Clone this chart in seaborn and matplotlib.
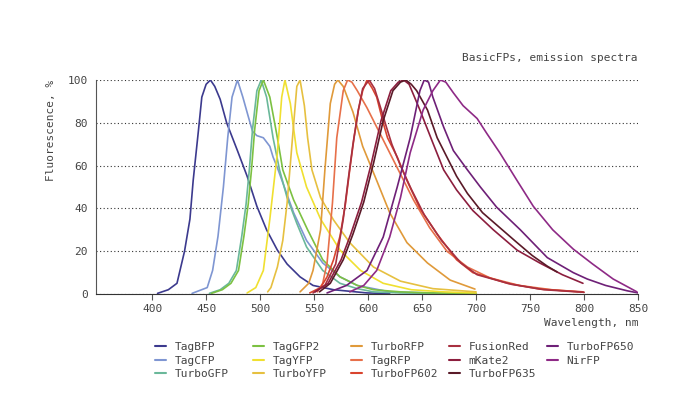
import numpy as np
import pandas as pd
import matplotlib
matplotlib.use("Agg")
import matplotlib.pyplot as plt
from matplotlib.lines import Line2D
import seaborn as sns

# emission spectra (wavelength nm, fluorescence %)
tagbfp_nm = [405, 415, 423, 430, 435, 438, 443, 446, 450, 454, 458, 463, 469, 479, 488, 497, 506, 516, 525, 537, 549, 568, 599, 620]
tagbfp_val = [0.3, 2, 5, 20, 35, 53, 77, 92, 98, 100, 97, 91, 80, 67, 55, 41, 30, 20.5, 14, 8, 4, 2, 0.5, 0.2]

tagcfp_nm = [437, 451, 456, 461, 466, 470, 474, 479, 484, 489, 493, 497, 503, 509, 512, 516, 521, 531, 543, 558, 574, 590, 620, 660, 700]
tagcfp_val = [0.3, 3, 11, 27, 50, 73, 92, 100, 92, 83, 76, 74, 73, 69, 64, 59, 52, 38, 25, 14.5, 8, 4, 1, 0.4, 0.2]

turbogfp_nm = [453, 463, 471, 478, 483, 487, 490, 493, 497, 501, 506, 512, 518, 525, 534, 543, 558, 574, 590, 605, 630, 660, 700]
turbogfp_val = [0.3, 2, 5, 11, 27, 42, 58, 77, 95, 100, 92, 73, 58, 45, 33, 22, 11, 5, 2.5, 1, 0.5, 0.3, 0.2]

taggfp2_nm = [455, 465, 473, 480, 485, 489, 492, 495, 499, 503, 509, 516, 521, 531, 544, 558, 574, 590, 605, 630, 660, 700]
taggfp2_val = [0.3, 2, 5, 11, 27, 42, 58, 77, 95, 100, 92, 73, 58, 44, 30, 16, 8, 4, 2, 1, 0.5, 0.2]

tagyfp_nm = [488, 496, 503, 509, 516, 520, 523, 528, 534, 543, 556, 574, 593, 614, 640, 670, 700]
tagyfp_val = [0.5, 3, 11, 35, 66, 92, 100, 89, 66, 50, 35, 20.5, 11, 5, 2, 1, 0.5]

turboyfp_nm = [507, 510, 516, 521, 525, 530, 534, 537, 541, 544, 548, 556, 568, 583, 605, 630, 660, 700]
turboyfp_val = [1, 3, 12.6, 25, 42.5, 73, 97, 100, 88, 73, 58, 45, 34.6, 24, 12.6, 6, 2.5, 1]

turborfp_nm = [537, 545, 549, 556, 560, 565, 569, 572, 577, 586, 595, 608, 620, 636, 655, 676, 699]
turborfp_val = [1, 5, 11, 30, 58, 89, 98, 100, 97, 85, 69, 53, 38, 24, 14.5, 6.5, 2.3]

tagrfp_nm = [553, 558, 562, 567, 571, 577, 581, 585, 590, 599, 614, 630, 642, 657, 673, 692, 713, 740, 770, 800]
tagrfp_val = [1, 5, 14.5, 42.5, 73, 95, 100, 99, 95, 87, 72, 56, 44, 31, 20, 12.6, 7.5, 4, 2, 0.8]

turbofp602_nm = [546, 556, 562, 568, 574, 579, 583, 587, 591, 595, 599, 604, 608, 614, 618, 627, 636, 648, 664, 682, 697, 729, 759, 799]
turbofp602_val = [0.5, 3, 8, 16, 27, 42, 58, 73, 86, 95, 100, 96, 92, 80, 73, 64, 53, 40, 28, 16, 10, 5, 2.3, 1]

fusionred_nm = [549, 560, 570, 577, 582, 586, 591, 595, 601, 606, 611, 617, 622, 630, 640, 652, 668, 686, 701, 733, 763, 800]
fusionred_val = [0.5, 4, 14, 35, 55, 70, 86, 96, 100, 96, 88, 78, 70, 60, 49, 37, 25, 14.5, 9, 4.5, 2, 0.8]

mkate2_nm = [551, 563, 575, 584, 594, 603, 612, 621, 628, 633, 638, 648, 660, 670, 682, 697, 716, 738, 759, 780, 799]
mkate2_val = [1, 5, 16, 28, 43, 61, 81, 95, 99, 100, 98, 86, 70.6, 58, 48.6, 39, 30, 20.5, 14.5, 9, 5]

turbofp635_nm = [555, 565, 577, 586, 596, 605, 614, 623, 630, 635, 640, 645, 655, 664, 673, 682, 692, 706, 722, 738, 752, 766, 775]
turbofp635_val = [1, 5, 16, 28, 43, 61, 81, 95, 99, 100, 98, 95, 86, 73, 64, 55, 47, 38, 31, 24, 18, 13, 10.3]

turbofp650_nm = [562, 580, 599, 614, 627, 639, 648, 652, 656, 660, 670, 679, 692, 704, 719, 741, 766, 790, 803, 820, 840, 850]
turbofp650_val = [0.5, 4, 11, 26.6, 50, 73, 95, 100, 99, 92, 78, 67, 58, 50, 40.6, 30, 17, 10, 7, 4, 1.5, 0.5]

nirfp_nm = [583, 596, 608, 620, 630, 639, 651, 660, 667, 672, 679, 688, 701, 710, 722, 738, 753, 771, 790, 808, 827, 849]
nirfp_val = [1, 4, 11, 26.6, 45, 66, 86, 95, 100, 99, 94, 88, 82, 75, 66, 53, 41, 30, 21, 14, 7, 1]

proteins = ['TagBFP', 'TagCFP', 'TurboGFP', 'TagGFP2', 'TagYFP', 'TurboYFP',
            'TurboRFP', 'TagRFP', 'TurboFP602', 'FusionRed', 'mKate2', 'TurboFP635',
            'TurboFP650', 'NirFP']
colors = ['#3c3a8e', '#7f96d2', '#6ab89a', '#7cc142', '#f0e030', '#e6c040',
          '#e09a3a', '#e7704a', '#d9442e', '#a83040', '#8c1e3e', '#5a1a28',
          '#6e2077', '#8e2a86']

spectra = [(tagbfp_nm, tagbfp_val), (tagcfp_nm, tagcfp_val), (turbogfp_nm, turbogfp_val),
           (taggfp2_nm, taggfp2_val), (tagyfp_nm, tagyfp_val), (turboyfp_nm, turboyfp_val),
           (turborfp_nm, turborfp_val), (tagrfp_nm, tagrfp_val), (turbofp602_nm, turbofp602_val),
           (fusionred_nm, fusionred_val), (mkate2_nm, mkate2_val), (turbofp635_nm, turbofp635_val),
           (turbofp650_nm, turbofp650_val), (nirfp_nm, nirfp_val)]

# long format for seaborn
frames = []
for name, (nm, val) in zip(proteins, spectra):
    frames.append(pd.DataFrame({'nm': nm, 'val': val, 'protein': name}))
df = pd.concat(frames, ignore_index=True)

sns.set_style('white')
plt.rcParams['font.family'] = 'DejaVu Sans Mono'
text_col = '#444444'

fig = plt.figure(figsize=(6.99, 3.94), dpi=100)
ax = fig.add_axes([96/699, 1-294/394, 542/699, 214/394])

sns.lineplot(data=df, x='nm', y='val', hue='protein', hue_order=proteins,
             palette=dict(zip(proteins, colors)), estimator=None, sort=False,
             linewidth=1.2, legend=False, ax=ax)

ax.set_xlim(348, 850)
ax.set_ylim(0, 100)
ax.set_xticks(np.arange(400, 851, 50))
ax.set_yticks(np.arange(0, 101, 20))
ax.yaxis.grid(True, linestyle=(0, (1, 2.2)), color='#333333', linewidth=0.8)
ax.xaxis.grid(False)
ax.set_axisbelow(True)
for s in ['top', 'right']:
    ax.spines[s].set_visible(False)
ax.spines['left'].set_color('#555555')
ax.spines['bottom'].set_color('#333333')
ax.tick_params(axis='x', length=4, width=0.8, color='#555555', labelsize=8,
               labelcolor=text_col, pad=3, direction='out', bottom=True)
ax.tick_params(axis='y', length=0, labelsize=8, labelcolor=text_col, pad=6)

ax.set_xlabel('Wavelength, nm', loc='right', fontsize=8, color=text_col, labelpad=3)
ax.set_ylabel('Fluorescence, %', loc='top', fontsize=8, color=text_col, labelpad=8)
ax.set_title('BasicFPs, emission spectra', loc='right', fontsize=8, color=text_col, pad=14)

# legend: 5 fixed-width columns
col_x = [155, 253, 351, 449, 547]
for c in range(5):
    idx = list(range(c*3, min(c*3+3, len(proteins))))
    handles = [Line2D([], [], color=colors[i], lw=1.5) for i in idx]
    labels = [proteins[i] for i in idx]
    fig.legend(handles, labels, loc='upper left', bbox_to_anchor=(col_x[c]/699, 1-342/394),
               frameon=False, fontsize=8, handlelength=1.0, handletextpad=0.75,
               borderpad=0, borderaxespad=0, labelspacing=0.32, labelcolor=text_col)

fig.savefig('out.png', dpi=100)
